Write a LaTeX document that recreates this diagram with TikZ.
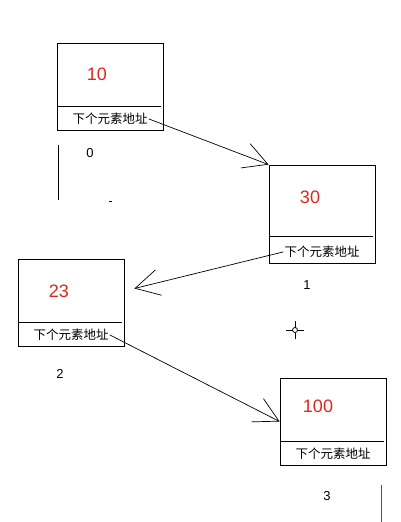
\documentclass[tikz,border=0pt]{standalone}
\usepackage{fontspec}
\setmainfont{Liberation Sans}
\newfontfamily\cjk{Noto Sans CJK SC}
\usetikzlibrary{arrows.meta}
\usetikzlibrary{positioning}
\definecolor{numred}{RGB}{222,38,28}
\definecolor{markred}{RGB}{180,40,30}
\tikzstyle{arrow} = [line width=0.7pt,-{Straight Barb[length=24pt,width=26pt]}]
\tikzstyle{cell} = [rectangle, draw=black, line width=0.8pt, inner sep=0pt,
    minimum width=106pt, minimum height=87pt]
\tikzstyle{val} = [text=numred, font=\fontsize{18}{20}\selectfont]
\tikzstyle{addr} = [inner sep=1pt, font=\cjk\fontsize{12.5}{14}\selectfont]
\tikzstyle{idx} = [font=\fontsize{13}{15}\selectfont]

\begin{document}
\begin{tikzpicture}[x=1pt,y=-1pt]
\useasboundingbox (0,0) rectangle (401,522);

\node (box0) [cell] at (110,86.5) {};
\node (box1) [cell, minimum height=98pt] at (322,214) {};
\node (box2) [cell] at (71,302.5) {};
\node (box3) [cell] at (333,421.5) {};

\node (val0) [val] at (97,74) {10};
\node (val1) [val] at (310,197) {30};
\node (val2) [val] at (59,291) {23};
\node (val3) [val] at (318,406) {100};

\foreach \b/\g in {box0/24,box1/27,box2/24,box3/24} {
    \draw [line width=0.8pt] ([yshift=\g pt]\b.south west) -- ([yshift=\g pt,xshift=-2pt]\b.south east);
    \node (\b-addr) [addr] at ([yshift=11.5pt]\b.south) {下个元素地址};
}

\node (idx0) [idx] at (90,153) {0};
\node (idx1) [idx] at (307,285) {1};
\node (idx2) [idx] at (60,374) {2};
\node (idx3) [idx] at (327,496) {3};

\coordinate (tip1) at ([xshift=10pt,yshift=14pt]box2.east);
\draw [arrow] (box0-addr.east) -- (box1.north west);
\draw [arrow] (box1-addr.west) -- (tip1);
\draw [arrow] (box2-addr.east) -- (box3.west);

% stray marks
\draw [line width=0.8pt] (58,145) -- (58,200);
\draw [line width=0.8pt] (109,201) -- (112,201);
\draw [markred, line width=0.9pt] (381,485) -- (381,522);
\draw [line width=0.8pt] (295,330) circle (2.5pt);
\draw [line width=0.8pt] (286,330) -- (292.5,330) (297.5,330) -- (304,330)
      (295,321) -- (295,327.5) (295,332.5) -- (295,339);
\end{tikzpicture}
\end{document}
